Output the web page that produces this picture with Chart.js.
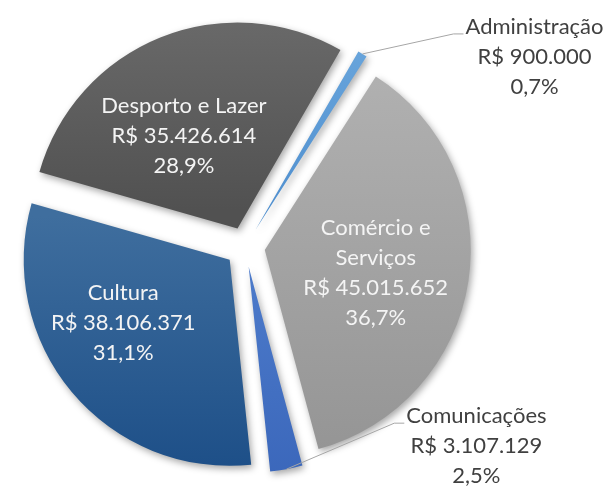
<!DOCTYPE html>
<html>
<head>
<meta charset="utf-8">
<script src="https://cdn.jsdelivr.net/npm/chart.js@4.4.0/dist/chart.umd.min.js"></script>
<style>
  html, body { margin: 0; padding: 0; background: #fff; }
</style>
</head>
<body>
<canvas id="myChartPizza" width="615" height="487"></canvas>
<script>
// dados
var categorias = ['Administração', 'Comércio e Serviços', 'Comunicações', 'Cultura', 'Desporto e Lazer'];
var valores = [900000, 45015652, 3107129, 38106371, 35426614];
var nomesRotulo = [['Administração'], ['Comércio e', 'Serviços'], ['Comunicações'], ['Cultura'], ['Desporto e Lazer']];

// cores (topo, base) de cada fatia
var coresTopo = ['#6aa6dc', '#b0b0b0', '#4b79c9', '#3f6e9e', '#6b6b6b'];
var coresBase = ['#4f8fcf', '#959595', '#3a66ba', '#1c4e87', '#515151'];

var afastamento = 20;
var fonte = '22px Lato';
var alturaLinha = 30;

// posicao dos rotulos: dentro (angulo extra, fracao do raio) ou fora (deslocamento)
var posRotulo = [
  { fora: true, dx: 172, dy: 3 },
  { ang: 3, dist: 0.55 },
  { fora: true, dx: 190, dy: -23 },
  { ang: 9.5, dist: 0.6 },
  { ang: -8, dist: 0.52 }
];

function moeda(v) {
  return 'R$ ' + String(v).replace(/\B(?=(\d{3})+(?!\d))/g, '.');
}
function pct(v) {
  var total = valores.reduce(function (a, b) { return a + b; }, 0);
  return (v / total * 100).toFixed(1).replace('.', ',') + '%';
}

var explodir = {
  id: 'explodir',
  beforeDatasetDraw: function (chart, args) {
    var ctx = chart.ctx;
    args.meta.data.forEach(function (arc, i) {
      var meio = (arc.startAngle + arc.endAngle) / 2;
      var ax = arc.x + Math.cos(meio) * afastamento;
      var ay = arc.y + Math.sin(meio) * afastamento;
      // extensao vertical da fatia para o degrade
      var minY = ay, maxY = ay;
      for (var k = 0; k <= 40; k++) {
        var a = arc.startAngle + (arc.endAngle - arc.startAngle) * k / 40;
        var y = ay + Math.sin(a) * arc.outerRadius;
        minY = Math.min(minY, y);
        maxY = Math.max(maxY, y);
      }
      var g = ctx.createLinearGradient(0, minY, 0, maxY);
      g.addColorStop(0, coresTopo[i]);
      g.addColorStop(1, coresBase[i]);
      arc.options.backgroundColor = g;

      ctx.save();
      ctx.shadowColor = 'rgba(0,0,0,0.35)';
      ctx.shadowBlur = 7;
      ctx.shadowOffsetX = 2;
      ctx.shadowOffsetY = 3;
      ctx.translate(Math.cos(meio) * afastamento, Math.sin(meio) * afastamento);
      arc.draw(ctx);
      ctx.restore();
    });
    return false;
  }
};

var rotulos = {
  id: 'rotulos',
  afterDraw: function (chart) {
    var ctx = chart.ctx;
    var arcs = chart.getDatasetMeta(0).data;
    ctx.save();
    ctx.font = fonte;
    ctx.textAlign = 'center';
    ctx.textBaseline = 'middle';
    arcs.forEach(function (arc, i) {
      var linhas = nomesRotulo[i].concat([moeda(valores[i]), pct(valores[i])]);
      var meio = (arc.startAngle + arc.endAngle) / 2;
      var ax = arc.x + Math.cos(meio) * afastamento;
      var ay = arc.y + Math.sin(meio) * afastamento;
      var p = posRotulo[i];
      var cx, cy;
      if (p.fora) {
        var px = ax + Math.cos(meio) * arc.outerRadius;
        var py = ay + Math.sin(meio) * arc.outerRadius;
        cx = px + p.dx;
        cy = py + p.dy;
        var y1 = cy - (linhas.length - 1) / 2 * alturaLinha;
        var esq = cx - ctx.measureText(linhas[0]).width / 2;
        ctx.strokeStyle = '#a6a6a6';
        ctx.lineWidth = 1;
        ctx.beginPath();
        ctx.moveTo(px, py);
        ctx.lineTo(esq - 12, y1 + 7);
        ctx.lineTo(esq - 2, y1 + 7);
        ctx.stroke();
        ctx.fillStyle = '#404040';
      } else {
        var ang = meio + p.ang * Math.PI / 180;
        cx = ax + Math.cos(ang) * arc.outerRadius * p.dist;
        cy = ay + Math.sin(ang) * arc.outerRadius * p.dist;
        ctx.fillStyle = '#f4f4f4';
      }
      var y0 = cy - (linhas.length - 1) / 2 * alturaLinha;
      linhas.forEach(function (t, j) {
        ctx.fillText(t, cx, y0 + j * alturaLinha);
      });
    });
    ctx.restore();
  }
};

var ctx = document.getElementById('myChartPizza').getContext('2d');
var myChartPizza = new Chart(ctx, {
  type: 'pie',
  data: {
    labels: categorias,
    datasets: [{
      data: valores,
      backgroundColor: coresBase,
      borderWidth: 0
    }]
  },
  options: {
    responsive: false,
    animation: false,
    rotation: 30,
    radius: 206,
    layout: { padding: { left: 0, right: 125, top: 7, bottom: 0 } },
    plugins: {
      legend: { display: false },
      tooltip: { enabled: false }
    }
  },
  plugins: [explodir, rotulos]
});
</script>
</body>
</html>
